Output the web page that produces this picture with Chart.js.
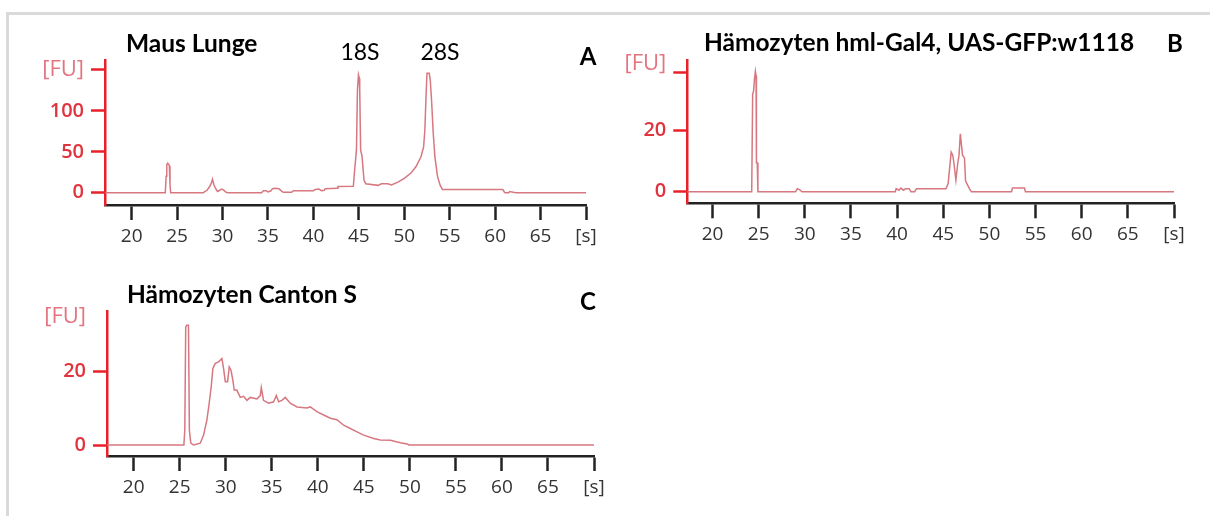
<!DOCTYPE html>
<html>
<head>
<meta charset="utf-8">
<script src="https://cdn.jsdelivr.net/npm/chart.js@4.4.1/dist/chart.umd.min.js"></script>
<style>
  html, body { margin:0; padding:0; background:#ffffff; }
  body { width:1210px; height:516px; position:relative; overflow:hidden; }
  #frame { position:absolute; left:6px; top:12px; width:1210px; height:520px;
           border-top:3px solid #dadada; border-left:3px solid #dadada; box-sizing:border-box; }
  canvas { position:absolute; }
  .t { position:absolute; white-space:nowrap; color:#000; font-family:"Lato","Open Sans",sans-serif;
       line-height:1; transform:translateY(-50%); }
  .b { font-weight:700; }
  .c { transform:translate(-50%,-50%); }
</style>
</head>
<body>
<div id="frame"></div>
<canvas id="cA" width="605" height="260" style="left:0;top:0"></canvas>
<canvas id="cB" width="605" height="260" style="left:605px;top:0"></canvas>
<canvas id="cC" width="605" height="256" style="left:0;top:260px"></canvas>

<div class="t b" style="left:126px;top:43px;font-size:24.5px">Maus Lunge</div>
<div class="t c" style="left:360px;top:51px;font-size:23px">18S</div>
<div class="t c" style="left:440px;top:51px;font-size:23px">28S</div>
<div class="t b c" style="left:588px;top:56px;font-size:24px">A</div>
<div class="t b" style="left:704px;top:42px;font-size:24.5px">Hämozyten hml-Gal4, UAS-GFP:w1118</div>
<div class="t b c" style="left:1175px;top:43px;font-size:24px">B</div>
<div class="t b" style="left:127px;top:294px;font-size:24.5px">Hämozyten Canton S</div>
<div class="t b c" style="left:588px;top:301px;font-size:24px">C</div>

<script>
// ---- Data ----
const timeA = [17.1,23.7,23.8,23.87,23.95,24.05,24.15,24.22,24.3,
  27.9,28.0,28.3,28.55,28.75,28.9,29.05,29.2,29.45,29.7,29.9,30.1,30.4,30.6,
  34.3,34.5,34.8,35.0,35.3,35.5,35.8,36.2,36.5,36.7,37.6,37.8,40.0,40.2,40.6,40.9,41.2,41.3,42.6,42.7,44.4,
  44.56,44.74,44.85,44.96,45.05,45.1,45.2,45.35,45.57,45.76,47.1,47.5,48.2,48.6,49.3,50.0,50.74,51.3,51.84,
  52.13,52.27,52.38,52.5,52.75,52.86,53.0,53.19,53.37,53.66,53.96,54.2,60.85,61.0,61.1,61.5,61.6,62.0,62.3,70];
const fuA = [0,0,20,34,36,35,33,10,0,
  0,1,3,7,11,16.5,10,6,1.5,3,4.5,3.5,0.5,0,
  0,2.5,2.5,1,2,5,5.5,5,2,0.5,0.5,2.5,2.5,4,4.5,2.5,3,5,5.5,7.5,8,
  30,52,126,144,140,126,52,45,15.5,11,9,11,11,9.5,13,17.5,24,32,44,
  56,77,113,146,146,138,114,73,44,20,9,4,4,1,0,0,1.5,0.5,0,0];

const timeB = [17.27,24.25,24.35,24.45,24.55,24.65,24.72,24.76,24.85,24.92,
  29.0,29.2,29.5,29.7,39.8,39.9,40.2,40.4,40.7,40.9,41.3,41.5,41.9,42.1,
  45.3,45.53,45.7,45.86,46.03,46.15,46.37,46.58,46.71,46.85,46.92,47.09,47.3,47.42,47.83,48.05,
  52.4,52.5,53.8,53.9,70];
const fuB = [0,0,32,33,37,39.5,38,9.5,9.5,0,
  0,1,0.5,0,0,1,0.5,1.2,0.5,1,1,0,0,1,
  1,2.7,8,13,12,9.5,3.8,9.5,12,19,19,12,11,3.5,1,0,
  0,1.2,1.2,0,0];

const timeC = [17.1,25.45,25.55,25.65,25.75,25.95,26.05,26.2,26.5,27.23,27.59,27.95,28.2,28.42,28.6,28.86,
  29.22,29.58,29.76,29.95,30.2,30.38,30.56,30.78,30.92,31.2,31.58,31.93,32.3,32.66,33.39,33.75,33.86,
  34.1,34.65,35.2,35.49,35.74,36.1,36.47,37.0,37.74,38.82,39.18,39.9,40.63,41.36,42.08,42.8,43.53,
  44.26,44.98,46.07,46.79,47.88,48.97,49.7,49.9,70];
const fuC = [0,0,4,32.2,32.7,32.7,4,0.5,0,0.5,2.7,6.8,11.4,15.9,20.9,22.3,
  22.7,23.6,20.9,17.3,17.3,21.3,20.5,17.6,15,15,13,13.3,12.2,13,12.6,13.5,15.7,
  12.2,11.4,11.8,13.5,11.8,12.2,13,11.4,10.4,10.1,10.4,9.1,8.2,7.3,6.9,5.4,4.5,
  3.6,2.7,1.8,1.4,1.3,0.6,0.3,0,0];

const xTicks = [20,25,30,35,40,45,50,55,60,65,70];
const xUnitLabel = '[s]';
const yTicksA = [0,50,100,150];
const yTicksB = [0,20,39,42];
const yTicksC = [0,20,35];
const yUnitLabel = '[FU]';

// ---- Styling ----
const LINE = '#d77780';
const RED = '#e8202a';
const REDTXT = '#e0333d';
const PINK = '#e37480';
const DARK = '#222222';
const FAM = '"Open Sans", "DejaVu Sans", sans-serif';

function makeChart(id, xs, ys, opt) {
  const pts = xs.map((x, i) => ({ x: x, y: ys[i] }));
  return new Chart(document.getElementById(id), {
    type: 'line',
    data: { datasets: [{ data: pts, borderColor: LINE, borderWidth: 1.5, pointRadius: 0,
                         tension: 0, fill: false }] },
    options: {
      responsive: false, animation: false, devicePixelRatio: 1,
      layout: { padding: opt.pad },
      plugins: { legend: { display: false }, tooltip: { enabled: false } },
      scales: {
        x: {
          type: 'linear', min: opt.xmin, max: 70,
          afterBuildTicks: s => { s.ticks = xTicks.map(v => ({ value: v })); },
          afterFit: s => { s.height = 45; s.paddingLeft = 0; s.paddingRight = 0; },
          ticks: { autoSkip: false, maxRotation: 0, padding: 5, color: '#333',
                   font: { family: FAM, size: 19 },
                   callback: v => (v === 70 ? xUnitLabel : String(v)) },
          grid: { display: true, drawOnChartArea: false, drawTicks: true, tickLength: 15,
                  tickColor: DARK, tickWidth: 2.5 },
          border: { display: true, color: DARK, width: 2.5 }
        },
        y: {
          type: 'linear', min: opt.ymin, max: opt.ymax,
          afterBuildTicks: s => { s.ticks = opt.yTicks.map(v => ({ value: v })); },
          afterFit: s => { s.width = opt.yw; s.paddingTop = 0; s.paddingBottom = 0; },
          ticks: { autoSkip: false, padding: 7,
                   color: c => (c.tick && c.tick.value === opt.unitAt ? PINK : REDTXT),
                   font: c => ((c.tick && c.tick.value === opt.unitAt)
                                 ? { family: FAM, size: 22, weight: '400' }
                                 : { family: FAM, size: 20, weight: '600' }),
                   callback: v => (v === opt.unitAt ? yUnitLabel : (opt.hide.includes(v) ? '' : String(v))) },
          grid: { display: true, drawOnChartArea: false, drawTicks: true, tickLength: 14,
                  tickWidth: 2.5,
                  tickColor: c => (c.tick && opt.noTick.includes(c.tick.value) ? 'rgba(0,0,0,0)' : RED) },
          border: { display: true, color: RED, width: 2.5 }
        }
      }
    }
  });
}

makeChart('cA', timeA, fuA, { xmin: 17.07, ymin: -15, ymax: 162.2, yTicks: yTicksA, unitAt: 150,
  hide: [], noTick: [], yw: 105, pad: { left: 0, top: 60, right: 19, bottom: 10 } });
makeChart('cB', timeB, fuB, { xmin: 17.27, ymin: -3.8, ymax: 43.2, yTicks: yTicksB, unitAt: 42,
  hide: [39], noTick: [42], yw: 82.3, pad: { left: 0, top: 60, right: 36, bottom: 11.7 } });
makeChart('cC', timeC, fuC, { xmin: 17.1, ymin: -3.0, ymax: 36.4, yTicks: yTicksC, unitAt: 35,
  hide: [], noTick: [35], yw: 107, pad: { left: 0, top: 51.7, right: 11, bottom: 15 } });
</script>
</body>
</html>
